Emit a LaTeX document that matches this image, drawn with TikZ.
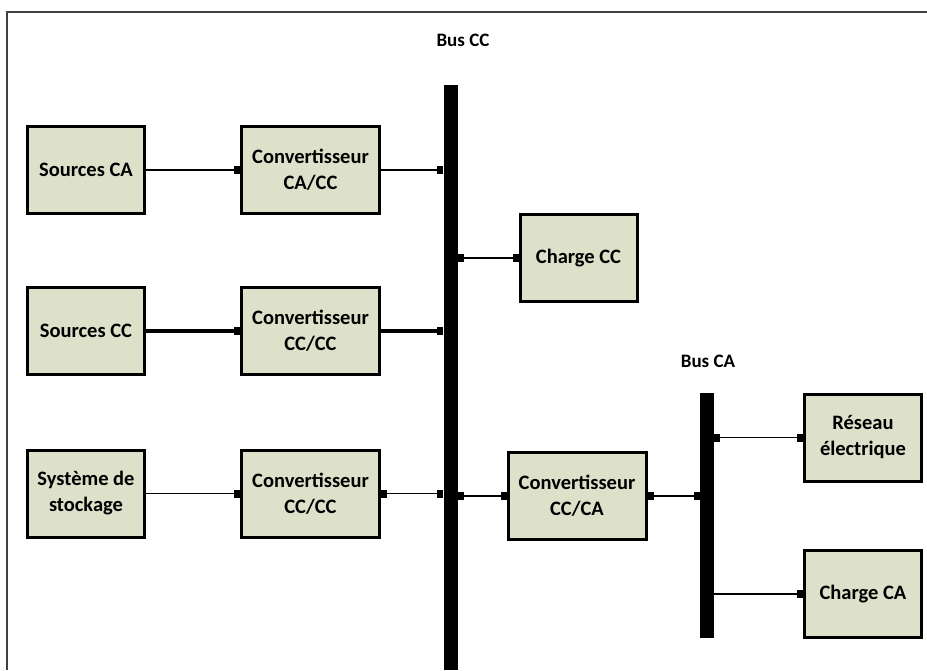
\documentclass[tikz,border=0pt]{standalone}
\usepackage{fontspec}
\setmainfont{Carlito}
\usetikzlibrary{arrows.meta}
\definecolor{boxfill}{HTML}{DDE1CA}
\begin{document}
\begin{tikzpicture}[x=1pt,y=-1pt,
  blk/.style={draw=black,line width=3pt,fill=boxfill,minimum width=117pt,minimum height=87pt,inner sep=0pt,align=center,font=\fontsize{20.5}{26}\selectfont\bfseries},
  cnv/.style={blk,minimum width=138pt},
  bus/.style={fill=black,inner sep=0pt,minimum width=14pt},
  lbl/.style={font=\fontsize{19}{23}\selectfont\bfseries},
  wire/.style={line width=1.8pt},
  thickwire/.style={line width=3.2pt},
  endsq/.style={-{Square[length=6pt,width=8pt]}},
  bothsq/.style={{Square[length=6pt,width=8pt]}-{Square[length=6pt,width=8pt]}},
]
\useasboundingbox (0,0) rectangle (927,670);
\draw[line width=1.3pt,black!75] (7,670) -- (7,12) -- (927,12);

% buses
\node[bus,minimum height=585pt] (busCC) at (450.5,377.5) {};
\node[bus,minimum height=245pt] (busCA) at (707,515.5) {};
\node[lbl] (lblCC) at (463,40) {Bus CC};
\node[lbl] (lblCA) at (708,361) {Bus CA};

% boxes
\node[blk] (src1) at (86,170) {Sources CA};
\node[cnv] (cv1) at (310.5,170) {Convertisseur\\CA/CC};
\node[blk] (src2) at (86,331) {Sources CC};
\node[cnv] (cv2) at (310.5,331) {Convertisseur\\CC/CC};
\node[blk] (src3) at (86,493.5) {Système de\\stockage};
\node[cnv] (cv3) at (310.5,493.5) {Convertisseur\\CC/CC};
\node[blk] (chcc) at (578.5,258) {Charge CC};
\node[cnv] (cvca) at (577,496) {Convertisseur\\CC/CA};
\node[blk] (res) at (863,437.5) {Réseau\\électrique};
\node[blk] (chca) at (863,594) {Charge CA};

% connectors
\draw[wire,endsq] (src1) -- (cv1);
\draw[wire,endsq] (cv1) -- (cv1 -| busCC.west);
\draw[wire,bothsq] (busCC.east |- chcc) -- (chcc);
\draw[thickwire,endsq] (src2) -- (cv2);
\draw[thickwire,endsq] (cv2) -- (cv2 -| busCC.west);
\draw[wire,endsq] (src3) -- (cv3);
\draw[wire,bothsq] (cv3) -- (cv3 -| busCC.west);
\draw[wire,bothsq] (busCC.east |- cvca) -- (cvca);
\draw[wire,bothsq] (cvca) -- (cvca -| busCA.west);
\draw[wire,bothsq] (busCA.east |- res) -- (res);
\draw[wire,endsq] (busCA.east |- chca) -- (chca);
\end{tikzpicture}
\end{document}
